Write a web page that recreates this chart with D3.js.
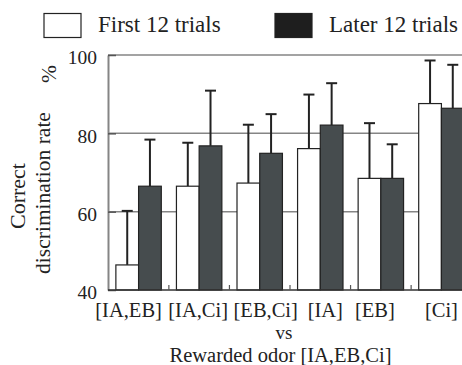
<!DOCTYPE html>
<html>
<head>
<meta charset="utf-8">
<script src="https://cdn.jsdelivr.net/npm/d3@7"></script>
<style>
  body { margin: 0; background: #fff; }
  svg { font-family: "Liberation Serif", "Times New Roman", serif; }
</style>
</head>
<body>
<div class="canvas"></div>
<script>
const categories = ['[IA,EB]', '[IA,Ci]', '[EB,Ci]', '[IA]', '[EB]', '[Ci]']
const seriesNames = ['First 12 trials', 'Later 12 trials']
const firstMeans = [46.4, 66.5, 67.3, 76.1, 68.5, 87.6]
const firstErr = [13.8, 11.1, 14.9, 13.8, 14.1, 11.0]
const laterMeans = [66.5, 76.8, 74.9, 82.1, 68.5, 86.4]
const laterErr = [11.9, 14.1, 10.0, 10.7, 8.7, 11.1]
const yTicks = [40, 60, 80, 100]

const dims = { width: 462, height: 365 }
const plot = { left: 108, right: 472, top: 55, bottom: 290 }

// the category labels sit a little off their bar pairs in the original
const labelNudge = [-10, -1, 6, 5, -6, 0]

const svg = d3.select('.canvas')
    .append('svg')
    .attr('width', dims.width)
    .attr('height', dims.height)

const y = d3.scaleLinear()
    .domain([40, 100])
    .range([plot.bottom, plot.top])

const x = d3.scaleBand()
    .domain(categories)
    .range([plot.left, plot.right])
    .paddingInner(0.25)
    .paddingOuter(0.13)

const xSub = d3.scaleBand()
    .domain(['first', 'later'])
    .range([0, x.bandwidth()])

const colors = { first: '#ffffff', later: '#464c4e' }

// gridlines behind bars
svg.append('g')
    .selectAll('line')
    .data(yTicks.filter(d => d > 40))
    .enter().append('line')
        .attr('x1', plot.left)
        .attr('x2', dims.width)
        .attr('y1', d => y(d))
        .attr('y2', d => y(d))
        .attr('stroke', '#858585')
        .attr('stroke-width', 1.5)

const rows = categories.map((c, i) => ({
    cat: c,
    bars: [
        { key: 'first', value: firstMeans[i], err: firstErr[i] },
        { key: 'later', value: laterMeans[i], err: laterErr[i] }
    ]
}))

const groups = svg.append('g')
    .selectAll('g')
    .data(rows)
    .enter().append('g')
        .attr('transform', d => `translate(${x(d.cat)}, 0)`)

const bars = groups.selectAll('g')
    .data(d => d.bars)
    .enter().append('g')

// error bars (upper only)
bars.append('line')
    .attr('x1', d => xSub(d.key) + xSub.bandwidth() / 2)
    .attr('x2', d => xSub(d.key) + xSub.bandwidth() / 2)
    .attr('y1', d => y(d.value))
    .attr('y2', d => y(d.value + d.err))
    .attr('stroke', '#222')
    .attr('stroke-width', 2)

bars.append('line')
    .attr('x1', d => xSub(d.key) + xSub.bandwidth() / 2 - 5.5)
    .attr('x2', d => xSub(d.key) + xSub.bandwidth() / 2 + 5.5)
    .attr('y1', d => y(d.value + d.err))
    .attr('y2', d => y(d.value + d.err))
    .attr('stroke', '#222')
    .attr('stroke-width', 2)

bars.append('rect')
    .attr('x', d => xSub(d.key))
    .attr('y', d => y(d.value))
    .attr('width', xSub.bandwidth())
    .attr('height', d => y(40) - y(d.value))
    .attr('fill', d => colors[d.key])
    .attr('stroke', '#222')
    .attr('stroke-width', 1.2)

// y axis
const yAxis = d3.axisLeft(y)
    .tickValues(yTicks)
    .tickSizeInner(-8)
    .tickSizeOuter(0)
    .tickPadding(11)

const yG = svg.append('g')
    .attr('transform', `translate(${plot.left}, 0)`)
    .call(yAxis)
yG.select('.domain').attr('stroke', '#858585').attr('stroke-width', 2)
yG.selectAll('.tick line').attr('stroke', '#555').attr('stroke-width', 1.5)
yG.selectAll('.tick text')
    .attr('font-size', 19.5)
    .attr('font-family', '"Liberation Serif", serif')
    .attr('fill', '#222')
    .attr('dy', '0.45em')

// baseline and small separator ticks
svg.append('line')
    .attr('x1', plot.left)
    .attr('x2', dims.width)
    .attr('y1', y(40))
    .attr('y2', y(40))
    .attr('stroke', '#333')
    .attr('stroke-width', 1.5)

const gap = x.step() - x.bandwidth()
svg.append('g')
    .selectAll('line')
    .data(categories.slice(0, -1))
    .enter().append('line')
        .attr('x1', d => x(d) + x.bandwidth() + gap / 2)
        .attr('x2', d => x(d) + x.bandwidth() + gap / 2)
        .attr('y1', y(40))
        .attr('y2', y(40) - 5)
        .attr('stroke', '#555')
        .attr('stroke-width', 1.2)

// x labels
const xAxis = d3.axisBottom(x).tickSize(0).tickPadding(12)
const xG = svg.append('g')
    .attr('transform', `translate(0, ${y(40)})`)
    .call(xAxis)
xG.select('.domain').remove()
xG.selectAll('.tick text')
    .attr('font-size', 20.5)
    .attr('font-family', '"Liberation Serif", serif')
    .attr('fill', '#222')
    .attr('dx', (d, i) => labelNudge[i])

svg.append('text')
    .attr('x', 284)
    .attr('y', 339)
    .attr('text-anchor', 'middle')
    .attr('font-size', 19)
    .attr('fill', '#222')
    .text('vs')

svg.append('text')
    .attr('x', 280.5)
    .attr('y', 361.5)
    .attr('text-anchor', 'middle')
    .attr('font-size', 20.5)
    .attr('fill', '#222')
    .text('Rewarded odor [IA,EB,Ci]')

// y title
svg.append('text')
    .attr('transform', 'translate(25, 196) rotate(-90)')
    .attr('text-anchor', 'middle')
    .attr('font-size', 22)
    .attr('fill', '#222')
    .text('Correct')

svg.append('text')
    .attr('transform', 'translate(50, 193) rotate(-90)')
    .attr('text-anchor', 'middle')
    .attr('font-size', 21.5)
    .attr('fill', '#222')
    .text('discrimination rate')

svg.append('text')
    .attr('transform', 'translate(56, 74) rotate(-90)')
    .attr('text-anchor', 'middle')
    .attr('font-size', 21.5)
    .attr('fill', '#222')
    .text('%')

// legend
const legend = svg.append('g')
const legendItems = [
    { key: 'first', name: seriesNames[0], bx: 44, tx: 98 },
    { key: 'later', name: seriesNames[1], bx: 275, tx: 329 }
]
legend.selectAll('rect')
    .data(legendItems)
    .enter().append('rect')
        .attr('x', d => d.bx)
        .attr('y', 13.5)
        .attr('width', 37)
        .attr('height', 24)
        .attr('fill', d => d.key === 'first' ? '#fff' : '#1e1e1e')
        .attr('stroke', '#222')
        .attr('stroke-width', 1.2)

legend.selectAll('text')
    .data(legendItems)
    .enter().append('text')
        .attr('x', d => d.tx)
        .attr('y', 32)
        .attr('font-size', 23)
        .attr('fill', '#222')
        .text(d => d.name)
</script>
</body>
</html>
